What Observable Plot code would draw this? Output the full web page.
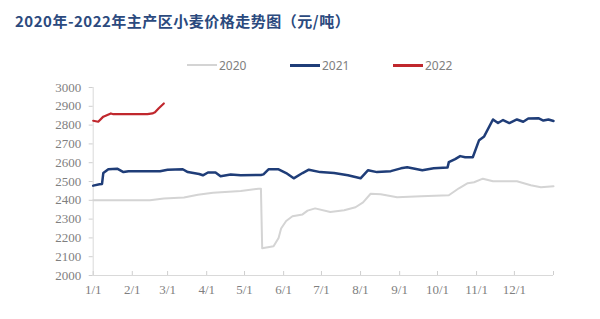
<!DOCTYPE html>
<html>
<head>
<meta charset="utf-8">
<script src="https://cdn.jsdelivr.net/npm/d3@7"></script>
<script src="https://cdn.jsdelivr.net/npm/@observablehq/plot@0.6"></script>
<style>
  html, body { margin: 0; padding: 0; background: #fff; }
  #wrap { width: 600px; height: 319px; position: relative; overflow: hidden; }
  #title { height: 40px; position: relative; }
  #title span { position: absolute; left: 15px; top: 11px; font-family: "Noto Sans CJK SC", sans-serif; font-weight: 700; font-size: 15px; line-height: 20px; color: #2b4a7e; letter-spacing: 0.5px; white-space: nowrap; }
  #legend { height: 40px; position: relative; font-family: "Noto Sans", sans-serif; font-size: 12px; color: #808080; }
  .lg { position: absolute; top: 17px; height: 16px; display: flex; align-items: center; }
  .lg i { display: inline-block; width: 30px; margin-right: 2px; }
</style>
</head>
<body>
<div id="wrap">
  <div id="title"><span>2020年-2022年主产区小麦价格走势图（元/吨）</span></div>
  <div id="legend"></div>
  <div id="chart"></div>
</div>
<script>
// x = day of year (0 = 1/1)
const monthTickDays = [0, 31, 59, 90, 120, 151, 181, 212, 243, 273, 304, 334];
const monthTickLabels = ["1/1","2/1","3/1","4/1","5/1","6/1","7/1","8/1","9/1","10/1","11/1","12/1"];
const yTicks = [2000,2100,2200,2300,2400,2500,2600,2700,2800,2900,3000];
const seriesNames = ["2020","2021","2022"];
const seriesColors = ["#d4d4d4","#1f3d78","#c0272d"];

const days2020 = [0,45,56,72,83,95,117,131,133,134,143,147,149,153,158,166,170,176,188,199,208,214,220,228,241,260,282,290,297,302,309,317,336,347,355,365];
const vals2020 = [2400,2400,2410,2415,2430,2440,2450,2462,2462,2145,2155,2200,2250,2290,2315,2325,2345,2357,2338,2347,2363,2389,2435,2432,2416,2422,2427,2464,2491,2496,2515,2501,2501,2480,2469,2475];

const days2021 = [0,5,7,8,12,19,24,28,53,59,71,75,84,87,91,97,101,109,117,133,135,139,147,153,159,166,171,180,191,202,212,218,225,236,244,249,261,270,281,282,287,291,295,301,306,310,317,321,325,330,336,341,345,353,357,361,365];
const vals2021 = [2478,2485,2487,2545,2565,2568,2550,2555,2555,2563,2565,2550,2540,2533,2548,2548,2528,2537,2533,2535,2538,2565,2565,2545,2517,2545,2563,2550,2545,2533,2517,2560,2550,2555,2570,2576,2560,2570,2575,2603,2619,2635,2629,2629,2720,2740,2830,2811,2827,2811,2830,2818,2835,2837,2824,2830,2822];

const days2022 = [0,4,8,14,16,43,47,49,52,56];
const vals2022 = [2823,2818,2845,2862,2858,2858,2862,2868,2890,2915];

const data2020 = days2020.map((d,i)=>({d, v: vals2020[i]}));
const data2021 = days2021.map((d,i)=>({d, v: vals2021[i]}));
const data2022 = days2022.map((d,i)=>({d, v: vals2022[i]}));

// legend
const legendX = [187, 290, 393];
const legend = document.getElementById("legend");
seriesNames.forEach((n,i)=>{
  const el = document.createElement("div");
  el.className = "lg";
  el.style.left = legendX[i] + "px";
  el.innerHTML = `<i style="border-top:${i===0?2:3}px solid ${seriesColors[i]}"></i><span>${n}</span>`;
  legend.appendChild(el);
});

const axisFont = "Liberation Serif, Times New Roman, serif";
const chart = Plot.plot({
  width: 600,
  height: 239,
  marginLeft: 92.7,
  marginRight: 47,
  marginTop: 7,
  marginBottom: 44,
  style: { background: "transparent", color: "#7f7f7f" },
  x: { domain: [0, 365], label: null },
  y: { domain: [2000, 3000], label: null },
  marks: [
    Plot.ruleX([0], { stroke: "#d9d9d9" }),
    Plot.ruleY([2000], { stroke: "#d9d9d9" }),
    Plot.axisY({ ticks: yTicks, label: null, tickSize: 4, tickPadding: 8, stroke: "#cfcfcf", fill: "#7f7f7f", fontFamily: axisFont, fontSize: 13, tickFormat: d => String(d) }),
    Plot.axisX({ ticks: monthTickDays, label: null, tickSize: 0, tickPadding: 9, fill: "#7f7f7f", fontFamily: axisFont, fontSize: 13, tickFormat: d => monthTickLabels[monthTickDays.indexOf(d)] }),
    Plot.axisX({ ticks: [...monthTickDays, 365], label: null, tickSize: -4, text: null, stroke: "#cfcfcf" }),
    Plot.line(data2020, { x: "d", y: "v", stroke: seriesColors[0], strokeWidth: 2 }),
    Plot.line(data2021, { x: "d", y: "v", stroke: seriesColors[1], strokeWidth: 2.5 }),
    Plot.line(data2022, { x: "d", y: "v", stroke: seriesColors[2], strokeWidth: 2.2 })
  ]
});
document.getElementById("chart").appendChild(chart);
</script>
</body>
</html>
